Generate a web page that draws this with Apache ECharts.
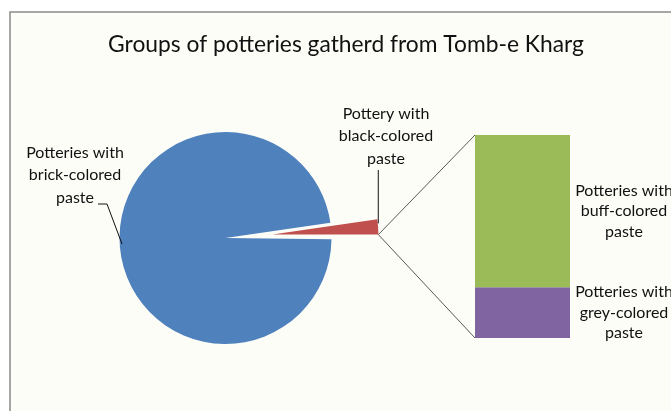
<!DOCTYPE html>
<html>
<head>
<meta charset="utf-8">
<script src="https://cdn.jsdelivr.net/npm/echarts@6/dist/echarts.min.js"></script>
<style>
html,body{margin:0;padding:0;background:#ffffff;}
#c{width:671px;height:411px;}
</style>
</head>
<body>
<div id="c"></div>
<script>
// ---- data (shares in percent) ----
var pieNames = ['Pottery with\nblack-colored\npaste', 'Other', 'Potteries with\nbrick-colored\npaste'];
var pieValues = [2.3, 0.2, 97.5];
var barNames = ['Potteries with\ngrey-colored\npaste', 'Potteries with\nbuff-colored\npaste'];
var barValues = [0.05, 0.15];
var titleText = 'Groups of potteries gatherd from Tomb-e Kharg';

var FONT = 'Lato, "Open Sans", sans-serif';
var pieColors = ['#c0504d', 'rgba(0,0,0,0)', '#4f81bd'];
var barColors = ['#8064a2', '#9bbb59'];

var total = 0;
pieValues.forEach(function (v) { total += v; });
var startAngle = pieValues[0] / total * 360;
var barTotal = barValues[0] + barValues[1];

var chart = echarts.init(document.getElementById('c'), null, {renderer: 'canvas'});

var pieData = pieNames.map(function (n, i) {
  var d = {name: n, value: pieValues[i], itemStyle: {color: pieColors[i]}};
  if (i === 0) d.selected = true;
  return d;
});

var barSeries = barNames.map(function (n, i) {
  return {
    type: 'bar',
    name: n,
    stack: 'other',
    xAxisIndex: 0,
    yAxisIndex: 0,
    barWidth: '100%',
    data: [barValues[i]],
    itemStyle: {color: barColors[i]},
    label: {
      show: true,
      position: 'right',
      distance: 54,
      align: 'center',
      formatter: n,
      fontFamily: FONT,
      fontSize: 16,
      lineHeight: 20.5,
      color: '#111'
    },
    silent: true
  };
});

var option = {
  animation: false,
  backgroundColor: '#ffffff',
  title: {
    text: titleText,
    left: 341,
    textAlign: 'center',
    top: 28,
    textStyle: {fontFamily: FONT, fontSize: 22.8, fontWeight: 'normal', color: '#111'}
  },
  grid: {left: 475, top: 135, width: 95, height: 203, containLabel: false},
  xAxis: {type: 'category', data: ['Other'], show: false},
  yAxis: {type: 'value', min: 0, max: barTotal, show: false},
  graphic: [
    {type: 'rect', z: -10, shape: {x: 10, y: 12, width: 700, height: 450},
     style: {fill: '#fdfdf8', stroke: '#8a8a8a', lineWidth: 1.5}}
  ],
  series: [
    {
      type: 'pie',
      center: [225.5, 238],
      radius: 106,
      startAngle: startAngle,
      clockwise: true,
      selectedMode: 'single',
      selectedOffset: 47,
      label: {show: false},
      labelLine: {show: false},
      emphasis: {disabled: true},
      data: pieData,
      silent: true
    }
  ].concat(barSeries)
};

chart.setOption(option);

// ---- annotations derived from the drawn layout ----
var model = chart.getModel();
var pieLayout = model.getSeriesByIndex(0).getData().getItemLayout(0);
var mid = (pieLayout.startAngle + pieLayout.endAngle) / 2;
var off = 47;
var ox = pieLayout.cx + Math.cos(mid) * off;
var oy = pieLayout.cy + Math.sin(mid) * off;
var tipX = ox + pieLayout.r * Math.cos(pieLayout.endAngle);
var tipY = oy + pieLayout.r * Math.sin(pieLayout.endAngle);
var topLX = ox + pieLayout.r * Math.cos(pieLayout.startAngle);
var topLY = oy + pieLayout.r * Math.sin(pieLayout.startAngle);

var gl = model.getSeriesByIndex(2).getData().getItemLayout(0); // top (buff)
var bl = model.getSeriesByIndex(1).getData().getItemLayout(0); // bottom (grey)
var barLeft = Math.min(gl.x, gl.x + gl.width);
var barTop = Math.min(gl.y, gl.y + gl.height);
var barBottom = Math.max(bl.y, bl.y + bl.height);

var txtStyle = {fontFamily: FONT, fontSize: 16, fill: '#111', align: 'center', verticalAlign: 'middle', lineHeight: 22.5};

chart.setOption({
  graphic: [
    {type: 'rect', z: -10, shape: {x: 10, y: 12, width: 700, height: 450},
     style: {fill: '#fdfdf8', stroke: '#8a8a8a', lineWidth: 1.5}},
    {type: 'polyline', z: 10, shape: {points: [[tipX, tipY], [barLeft, barTop]]},
     style: {stroke: '#595959', lineWidth: 1, fill: null}},
    {type: 'polyline', z: 10, shape: {points: [[tipX, tipY], [barLeft, barBottom]]},
     style: {stroke: '#595959', lineWidth: 1, fill: null}},
    {type: 'text', z: 10, x: 75, y: 175, style: Object.assign({text: pieNames[2]}, txtStyle)},
    {type: 'polyline', z: 10, shape: {points: [[98, 204], [107, 204], [122, 244]]},
     style: {stroke: '#111', lineWidth: 1, fill: null}},
    {type: 'text', z: 10, x: 386, y: 136, style: Object.assign({text: pieNames[0]}, txtStyle)},
    {type: 'polyline', z: 10, shape: {points: [[topLX + 1, 170], [topLX + 1, topLY + 4]]},
     style: {stroke: '#111', lineWidth: 1, fill: null}}
  ]
});
</script>
</body>
</html>
